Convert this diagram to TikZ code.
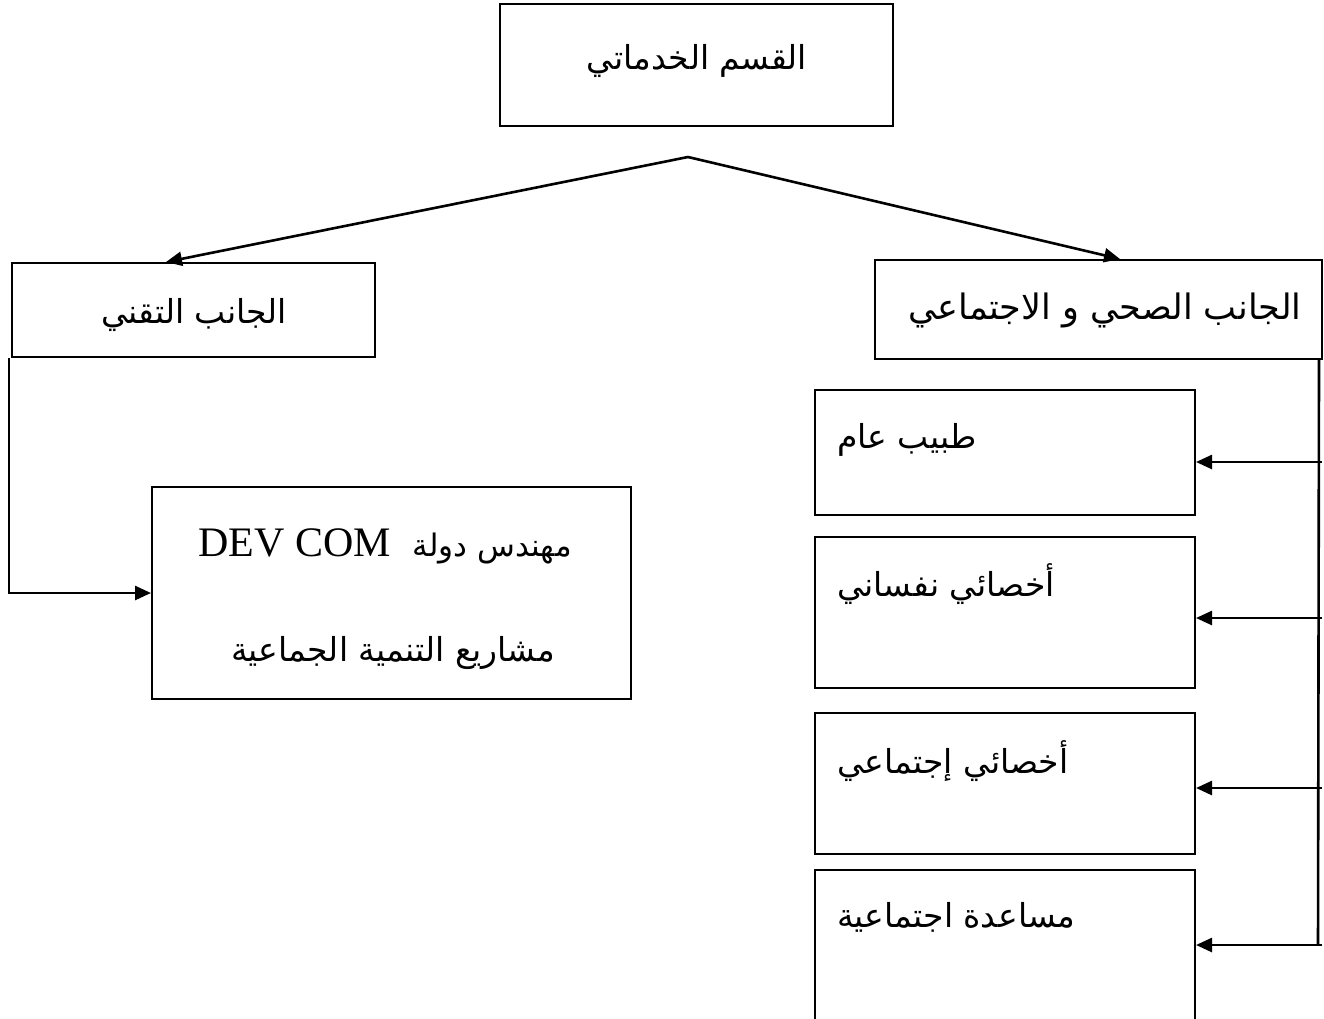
\documentclass[tikz,border=0pt]{standalone}
\usepackage{fontspec}
\usetikzlibrary{arrows.meta,calc}
\TeXXeTstate=1
\newfontfamily\arabicfont[Script=Arabic]{DejaVu Sans}
\newfontfamily\latinserif{Liberation Serif}
\tikzset{
  box/.style={draw=black, line width=2pt, inner sep=0pt, rectangle},
  lbl/.style={inner sep=0pt, anchor=base, font=\arabicfont\fontsize{33}{38}\selectfont},
  lbll/.style={inner sep=0pt, anchor=base west, font=\arabicfont\fontsize{33}{38}\selectfont},
  conn/.style={line width=2.6pt},
  arr/.style={line width=2.6pt, -{Triangle[length=16pt,width=14pt]}},
}
\begin{document}
\begin{tikzpicture}[x=1pt,y=-1pt]
\useasboundingbox (0,0) rectangle (1324,1018);
\clip (0,0) rectangle (1324,1018);
\fill[white] (0,0) rectangle (1324,1018);
% boxes
\node[box, minimum width=393pt, minimum height=122pt] (top) at (696.5,65) {};
\node[box, minimum width=363pt, minimum height=94pt] (lb) at (193.5,310) {};
\node[box, minimum width=447pt, minimum height=99pt] (rb) at (1098.5,309.5) {};
\node[box, minimum width=479pt, minimum height=212pt] (dev) at (391.5,593) {};
\node[box, minimum width=380pt, minimum height=125pt] (b1) at (1005,452.5) {};
\node[box, minimum width=380pt, minimum height=151pt] (b2) at (1005,612.5) {};
\node[box, minimum width=380pt, minimum height=141pt] (b3) at (1005,783.5) {};
\node[box, minimum width=380pt, minimum height=180pt] (b4) at (1005,960) {};
% texts
\node[lbl] (ttop) at (697,69) {\beginR القسم الخدماتي\endR};
\node[lbl] (tlb) at (194,323) {\beginR الجانب التقني\endR};
\node[lbl, font=\arabicfont\fontsize{35}{40}\selectfont] (trb) at (1105,319) {\beginR الجانب الصحي و الاجتماعي\endR};
\node[lbl, font=\arabicfont\fontsize{31}{36}\selectfont] (tdev1) at (385,556) {\beginR مهندس دولة\hspace{22pt}\beginL{\latinserif\fontsize{42}{44}\selectfont DEV COM}\endL\endR};
\node[lbl] (tdev2) at (393,661) {\beginR مشاريع التنمية الجماعية\endR};
\node[lbll] (tb1) at (837,448) {\beginR طبيب عام\endR};
\node[lbll] (tb2) at (837,596) {\beginR أخصائي نفساني\endR};
\node[lbll] (tb3) at (837,773) {\beginR أخصائي إجتماعي\endR};
\node[lbll] (tb4) at (837,927) {\beginR مساعدة اجتماعية\endR};
% connectors from top
\coordinate (apex) at (688,157);
\draw[arr] (apex) -- ([xshift=-27.5pt]lb.north);
\draw[arr] (apex) -- ([xshift=21.5pt]rb.north);
% left connector
\coordinate (lstart) at ([xshift=-2pt]lb.south west);
\draw[arr] (lstart) |- (dev.west);
% right bus
\coordinate (rstart) at ([xshift=-4pt]rb.south east);
\coordinate (r1) at (1318,462);
\coordinate (r2) at (1318,618);
\coordinate (r3) at (1318,788);
\coordinate (r4) at (1318,945);
\draw[conn] (rstart) -- (r4);
\draw[arr] ([xshift=4pt]r1) -- (r1 -| b1.east);
\draw[arr] ([xshift=4pt]r2) -- (r2 -| b2.east);
\draw[arr] ([xshift=4pt]r3) -- (r3 -| b3.east);
\draw[arr] ([xshift=4pt]r4) -- (r4 -| b4.east);
\end{tikzpicture}
\end{document}
